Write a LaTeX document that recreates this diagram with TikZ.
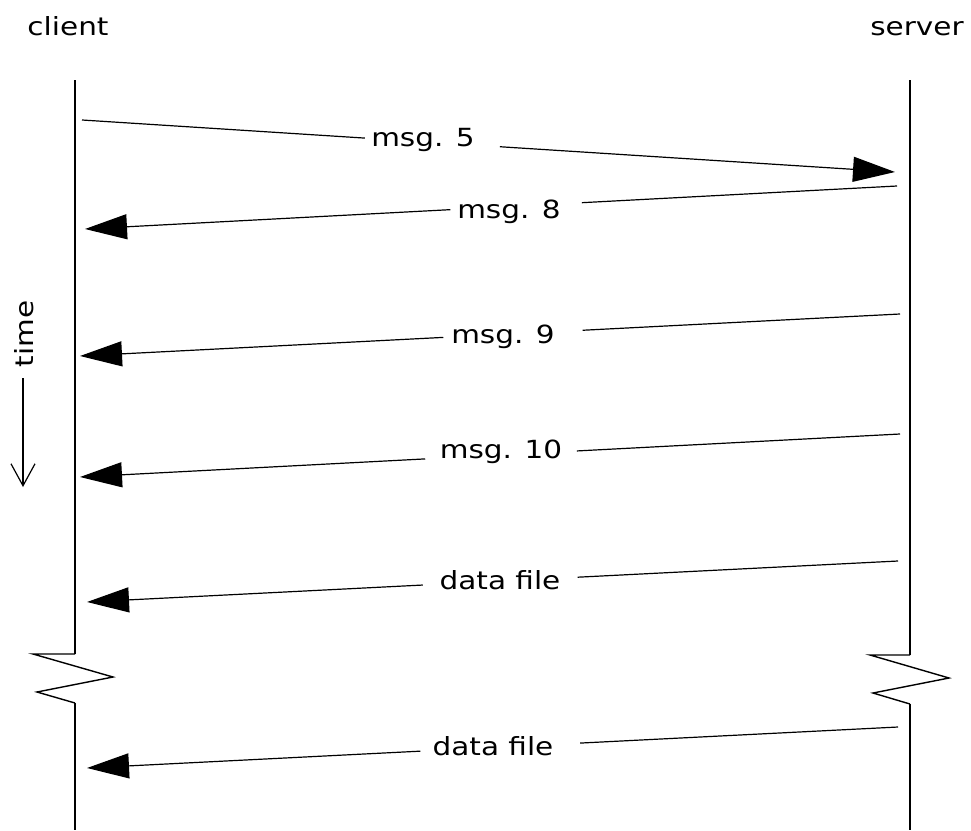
\documentclass[tikz,border=0pt]{standalone}
\usepackage{fontspec}
\setmainfont[FakeStretch=1.18]{DejaVu Sans}
\usetikzlibrary{arrows.meta,calc}
\begin{document}
\begin{tikzpicture}[x=1pt,y=-1pt,
  lifeline/.style={line width=1.6pt},
  msgline/.style={line width=1.2pt},
  msgtip/.style={msgline,-{Triangle[length=42pt,width=25pt]}},
  lbl/.style={font=\fontsize{25}{30}\selectfont,anchor=base,inner sep=0pt},
  brk/.style={line width=1.4pt,line join=miter}]
\useasboundingbox (0,0) rectangle (971,830);

% headings
\node[lbl] (client) at (68,35) {client};
\node[lbl] (server) at (917,35) {server};

% client lifeline with break
\coordinate (c0) at (75,80);
\coordinate (c1) at (75,654);
\coordinate (c2) at (75,703);
\coordinate (c3) at (75,830);
\draw[lifeline] (c0) -- (c1);
\draw[brk] (c1) -- (33,654) -- (113,677) -- (37,692) -- (c2);
\draw[lifeline] (c2) -- (c3);

% server lifeline with break
\coordinate (s0) at (910,80);
\coordinate (s1) at (910,655);
\coordinate (s2) at (910,704);
\coordinate (s3) at (910,830);
\draw[lifeline] (s0) -- (s1);
\draw[brk] (s1) -- (870,655) -- (949,678) -- (873,693) -- (s2);
\draw[lifeline] (s2) -- (s3);

% time axis
\coordinate (t0) at (23,378);
\coordinate (t1) at (23,487);
\draw[line width=1.2pt,-{Straight Barb[length=22pt,width=24pt,line width=1.2pt]}] (t0) -- (t1);
\node[lbl,rotate=90] (time) at (33,334) {time};

% messages: start, end, gap fractions
\newcommand{\msgarrow}[5]{%
  \coordinate (#1a) at #2;
  \coordinate (#1b) at #3;
  \draw[msgline] (#1a) -- ($(#1a)!#4!(#1b)$);
  \draw[msgtip] ($(#1a)!#5!(#1b)$) -- (#1b);
}
\msgarrow{m5}{(82,120)}{(895,172)}{0.348}{0.514}
\node[lbl] (l5) at (423,146) {msg. 5};

\msgarrow{m8}{(897,186)}{(85,229)}{0.388}{0.550}
\node[lbl] (l8) at (509,218) {msg. 8};

\msgarrow{m9}{(900,314)}{(80,356)}{0.387}{0.557}
\node[lbl] (l9) at (503,343) {msg. 9};

\msgarrow{m10}{(900,434)}{(80,477)}{0.394}{0.579}
\node[lbl] (l10) at (501,458) {msg. 10};

\msgarrow{d1}{(898,561)}{(87,602)}{0.395}{0.586}
\node[lbl] (ld1) at (500,589) {data file};

\msgarrow{d2}{(898,727)}{(87,768)}{0.392}{0.589}
\node[lbl] (ld2) at (493,755) {data file};
\end{tikzpicture}
\end{document}
